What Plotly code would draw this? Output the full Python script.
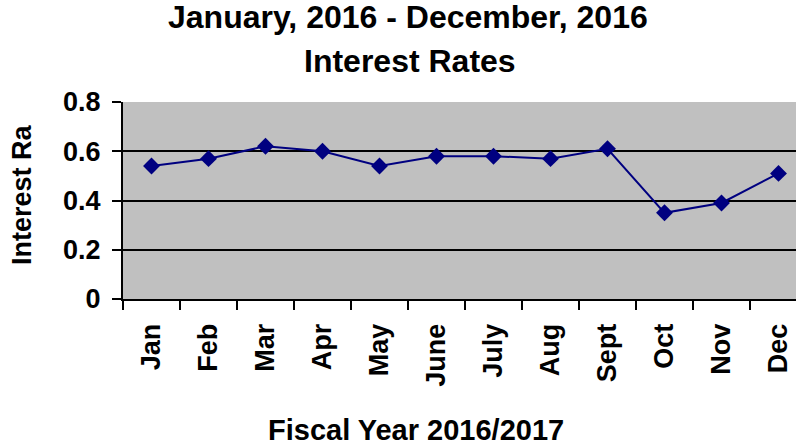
import plotly.graph_objects as go

# Monthly interest rates, calendar 2016
months = ["Jan", "Feb", "Mar", "Apr", "May", "June", "July", "Aug", "Sept", "Oct", "Nov", "Dec"]
rates = [0.54, 0.57, 0.62, 0.60, 0.54, 0.58, 0.58, 0.57, 0.61, 0.35, 0.39, 0.51]
y_ticks = [0, 0.2, 0.4, 0.6, 0.8]

title_line1 = "January, 2016 - December, 2016"
title_line2 = "Interest Rates"
x_title = "Fiscal Year 2016/2017"
y_title = "Interest Ra"

FONT = "Liberation Sans, Arial, sans-serif"

W, H = 796, 447
L, T, B, R = 123, 102, 148, 0
plot_w = W - L - R
plot_h = H - T - B


def px_x(px):
    return (px - L) / plot_w


def px_y(py):
    return (H - B - py) / plot_h


fig = go.Figure(
    go.Scatter(
        x=months,
        y=rates,
        mode="lines+markers",
        line=dict(color="#000080", width=2),
        marker=dict(symbol="diamond", size=13, color="#000080"),
        hoverinfo="x+y",
    )
)

fig.update_layout(
    width=W,
    height=H,
    margin=dict(l=L, r=R, t=T, b=B, pad=0),
    paper_bgcolor="white",
    plot_bgcolor="#C0C0C0",
    showlegend=False,
    font=dict(family=FONT, color="black"),
)

fig.update_xaxes(
    type="category",
    categoryorder="array",
    categoryarray=months,
    range=[-0.5, 11.307],
    showgrid=False,
    showline=True,
    linecolor="black",
    linewidth=2,
    ticks="outside",
    tickson="boundaries",
    ticklen=9,
    tickwidth=2,
    tickcolor="black",
    tickangle=-90,
    ticklabelstandoff=12,
    tickfont=dict(family=FONT, size=27, color="black", weight="bold"),
)

fig.update_yaxes(
    range=[0, 0.8],
    tickvals=y_ticks,
    ticktext=[f"{v:g}" for v in y_ticks],
    showgrid=True,
    gridcolor="black",
    gridwidth=1.5,
    zeroline=False,
    showline=True,
    linecolor="black",
    linewidth=2,
    ticks="outside",
    ticklen=9,
    tickwidth=2,
    tickcolor="black",
    ticklabelstandoff=6,
    tickfont=dict(family=FONT, size=27, color="black", weight="bold"),
)

bold = dict(family=FONT, color="black", weight="bold")
fig.add_annotation(text=title_line1, x=px_x(407.5), y=px_y(17), xref="paper", yref="paper",
                   xanchor="center", yanchor="middle", showarrow=False,
                   font=dict(size=32, **bold))
fig.add_annotation(text=title_line2, x=px_x(410), y=px_y(61), xref="paper", yref="paper",
                   xanchor="center", yanchor="middle", showarrow=False,
                   font=dict(size=32, **bold))
fig.add_annotation(text=x_title, x=px_x(416), y=px_y(430), xref="paper", yref="paper",
                   xanchor="center", yanchor="middle", showarrow=False,
                   font=dict(size=29, **bold))
fig.add_annotation(text=y_title, x=px_x(22), y=px_y(195), xref="paper", yref="paper",
                   xanchor="center", yanchor="middle", showarrow=False, textangle=-90,
                   font=dict(size=27, **bold))

fig.write_html("out.html")
